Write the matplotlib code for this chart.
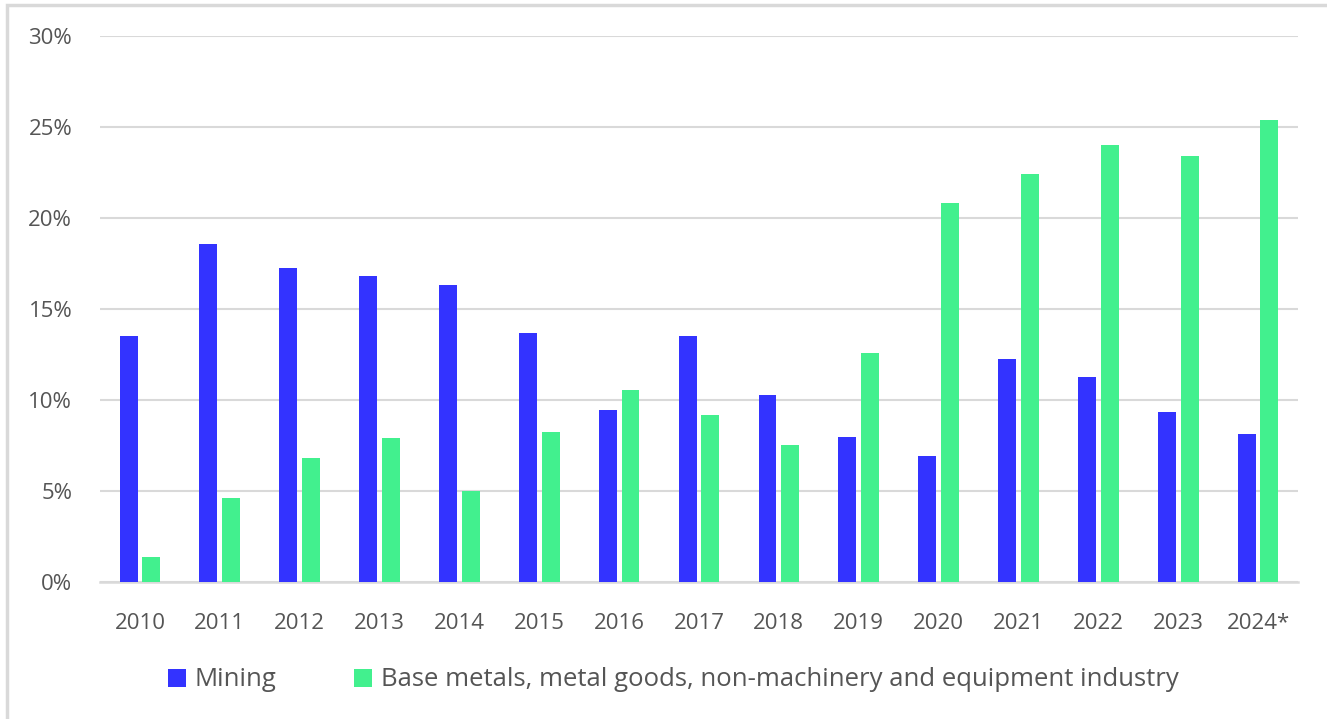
import numpy as np
import matplotlib.pyplot as plt
from matplotlib.patches import Rectangle
from matplotlib.ticker import FuncFormatter

years = ["2010", "2011", "2012", "2013", "2014", "2015", "2016", "2017",
         "2018", "2019", "2020", "2021", "2022", "2023", "2024*"]
mining = [13.5, 18.55, 17.25, 16.8, 16.3, 13.7, 9.45, 13.5,
          10.3, 7.95, 6.9, 12.25, 11.25, 9.35, 8.15]
base_metals = [1.35, 4.6, 6.8, 7.9, 5.0, 8.25, 10.55, 9.2,
               7.55, 12.6, 20.8, 22.4, 24.0, 23.4, 25.4]

blue = "#3333ff"
green = "#42f08e"
text_col = "#555555"

plt.rcParams['font.family'] = ['Open Sans', 'DejaVu Sans']

fig = plt.figure(figsize=(13.27, 7.19), dpi=100)
W, H = 1327, 719
ax = fig.add_axes([100 / W, 1 - 582 / H, 1198 / W, 546 / H])

# light frame around the chart
fig.patches.append(Rectangle((7 / W, -0.1), 1.2, 1 - 5 / H + 0.1,
                             transform=fig.transFigure, fill=False,
                             edgecolor="#d9d9d9", lw=2.5))

x = np.arange(len(years))
bw = 0.225
gap = 0.06
ax.bar(x - (bw + gap) / 2, mining, bw, color=blue, label="Mining", zorder=3)
ax.bar(x + (bw + gap) / 2, base_metals, bw, color=green,
       label="Base metals, metal goods, non-machinery and equipment industry",
       zorder=3)

ax.set_xlim(-0.5, len(years) - 0.5)
ax.set_ylim(0, 30)
ax.set_yticks(np.arange(0, 31, 5))
ax.yaxis.set_major_formatter(FuncFormatter(lambda v, p: f"{v:.0f}%"))
ax.set_xticks(x)
ax.set_xticklabels(years)
ax.grid(axis="y", color="#d9d9d9", lw=1.5, zorder=0)
for s in ["top", "right", "left"]:
    ax.spines[s].set_visible(False)
ax.spines["bottom"].set_color("#d9d9d9")
ax.spines["bottom"].set_linewidth(1.8)
ax.tick_params(axis="both", length=0, labelsize=16, colors=text_col)
ax.tick_params(axis="y", pad=20)
ax.tick_params(axis="x", pad=22)

ax.legend(loc="center", bbox_to_anchor=(673 / W, 1 - 680 / H),
          bbox_transform=fig.transFigure, ncol=2, frameon=False,
          fontsize=18.5, labelcolor=text_col, handlelength=0.7,
          handleheight=0.7, handletextpad=0.35, columnspacing=3.0)

fig.savefig("out.png", dpi=100)
